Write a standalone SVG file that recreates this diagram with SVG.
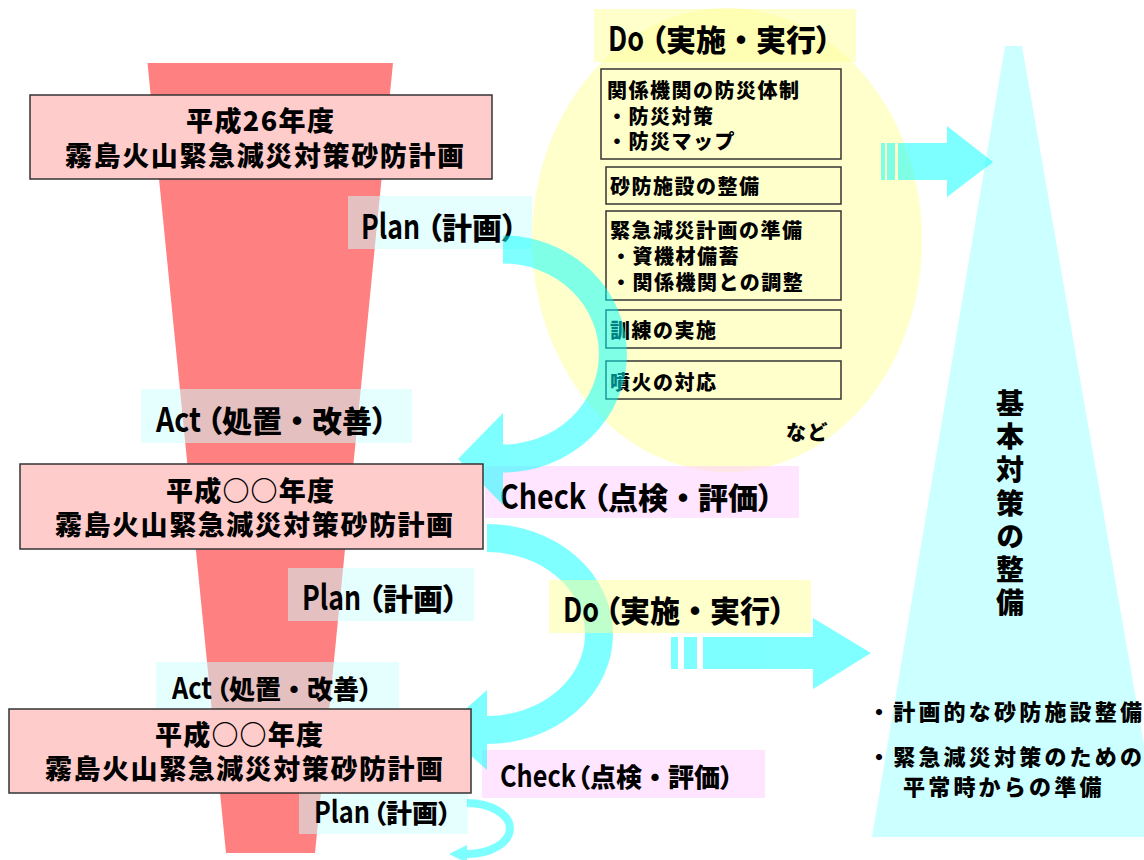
<svg xmlns="http://www.w3.org/2000/svg" width="1144" height="860" viewBox="0 0 1144 860">
<style>
.t{font-family:"Noto Sans CJK JP","Noto Sans",sans-serif;font-weight:900;fill:#000}
.title{font-size:27px}
.lbl{font-size:30px}
.lbl2{font-size:26px}
.lat{font-weight:700}
.lbl .lat{font-size:34px}
.lbl2 .lat{font-size:30px}
.p{font-feature-settings:"palt"}
.dt{font-size:20px;letter-spacing:1.5px}
.bl{font-size:22px;letter-spacing:3.2px}
.vt{font-size:28px;writing-mode:vertical-rl;letter-spacing:5.3px}
.tbox{fill:#ffcccc;stroke:#333;stroke-width:1.5}
.dbox{fill:#ffffcc;stroke:#333;stroke-width:1.5}
.bgc{fill:#ccffff;fill-opacity:.5}
.bgm{fill:#ffccff;fill-opacity:.5}
.bgy{fill:#ffff99;fill-opacity:.5}
.cy{fill:#00ffff}
.arc{fill:none;stroke:#00ffff}
</style>
<rect width="1144" height="860" fill="#fff"/>
<g id="funnel"><polygon points="147.5,63 393,63 315,853 226,853" fill="#ff8080"/></g>
<g id="do-area"><ellipse cx="727" cy="240" rx="195" ry="232" fill="#ffffcc"/></g>
<g id="basic-measures">
<polygon points="1005,46 1022,46 1160,837 872,837" fill="#ccffff"/>
<text class="t vt" x="1010" y="389">基本対策の整備</text>
<text class="t bl" x="868" y="720">・計画的な砂防施設整備</text>
<text class="t bl" x="868" y="765">・緊急減災対策のための</text>
<text class="t bl" x="903" y="795">平常時からの準備</text>
</g>
<g id="do-items">
<g id="item-a"><rect class="dbox" x="601" y="69" width="240" height="90"/>
<text class="t dt" x="607" y="97.5">関係機関の防災体制</text>
<text class="t dt" x="607" y="123.5">・防災対策</text>
<text class="t dt" x="607" y="148.5">・防災マップ</text></g>
<g id="item-b"><rect class="dbox" x="606" y="167" width="235" height="37"/>
<text class="t dt" x="610" y="193.5">砂防施設の整備</text></g>
<g id="item-c"><rect class="dbox" x="606" y="211" width="235" height="89"/>
<text class="t dt" x="610" y="237.5">緊急減災計画の準備</text>
<text class="t dt" x="611" y="263.5">・資機材備蓄</text>
<text class="t dt" x="611" y="289.5">・関係機関との調整</text></g>
<g id="item-d"><rect class="dbox" x="606" y="310" width="235" height="38"/>
<text class="t dt" x="610" y="337.5">訓練の実施</text></g>
<g id="item-e"><rect class="dbox" x="606" y="361" width="235" height="38"/>
<text class="t dt" x="610" y="389.5">噴火の対応</text></g>
<text class="t dt" x="786" y="440">など</text>
</g>
<g id="connectors">
<g opacity="0.5">
<rect class="cy" x="881" y="143" width="4" height="37"/>
<rect class="cy" x="887" y="143" width="8" height="37"/>
<polygon class="cy" points="898,143 947,143 947,126 993,162 947,197 947,180 898,180"/>
</g>
<g opacity="0.5">
<rect class="cy" x="671" y="637" width="7" height="32"/>
<rect class="cy" x="684" y="637" width="13" height="32"/>
<polygon class="cy" points="703,637 813,637 813,618 871,653 813,689 813,669 703,669"/>
</g>
</g>
<g id="labels">
<g id="plan1"><rect class="bgc" x="348" y="196" width="184" height="53"/>
<text class="t lbl" y="239"><tspan class="lat" x="361" textLength="59" lengthAdjust="spacingAndGlyphs">Plan</tspan><tspan class="p" x="427">（</tspan>計画<tspan class="p">）</tspan></text></g>
<g id="act1"><rect class="bgc" x="141" y="389" width="271" height="54"/>
<text class="t lbl" y="432"><tspan class="lat" x="156" textLength="45" lengthAdjust="spacingAndGlyphs">Act</tspan><tspan class="p" x="207">（</tspan>処置・改善<tspan class="p">）</tspan></text></g>
<g id="check1"><rect class="bgm" x="485" y="466" width="314" height="52"/>
<text class="t lbl" y="509"><tspan class="lat" x="500" textLength="86" lengthAdjust="spacingAndGlyphs">Check</tspan><tspan class="p" x="593">（</tspan>点検・評価<tspan class="p">）</tspan></text></g>
<g id="plan2"><rect class="bgc" x="288" y="568" width="186" height="53"/>
<text class="t lbl" y="610"><tspan class="lat" x="302" textLength="59" lengthAdjust="spacingAndGlyphs">Plan</tspan><tspan class="p" x="368">（</tspan>計画<tspan class="p">）</tspan></text></g>
<g id="do1"><rect class="bgy" x="594" y="9" width="262" height="53"/>
<text class="t lbl" y="51"><tspan class="lat" x="608" textLength="36" lengthAdjust="spacingAndGlyphs">Do</tspan><tspan class="p" x="651">（</tspan>実施・実行<tspan class="p">）</tspan></text></g>
<g id="act2"><rect class="bgc" x="156" y="662" width="243" height="50"/>
<text class="t lbl2" y="699"><tspan class="lat" x="172" textLength="40" lengthAdjust="spacingAndGlyphs">Act</tspan><tspan class="p" x="216">（</tspan>処置・改善<tspan class="p">）</tspan></text></g>
<g id="check2"><rect class="bgm" x="482" y="750" width="283" height="48"/>
<text class="t lbl2" y="787"><tspan class="lat" x="500" textLength="76" lengthAdjust="spacingAndGlyphs">Check</tspan><tspan class="p" x="577">（</tspan>点検・評価<tspan class="p">）</tspan></text></g>
<g id="plan3"><rect class="bgc" x="299" y="790" width="169" height="44"/>
<text class="t lbl2" y="823"><tspan class="lat" x="314" textLength="56" lengthAdjust="spacingAndGlyphs">Plan</tspan><tspan class="p" x="373">（</tspan>計画<tspan class="p">）</tspan></text></g>
</g>
<g id="cycle-arrows">
<g opacity="0.5">
<path class="arc" stroke-width="28" d="M503 249.5 A110 104.5 0 0 1 503 458.5"/>
<polygon class="cy" points="503,413 458,459 503,505"/>
</g>
<g opacity="0.5">
<path class="arc" stroke-width="28" d="M487 538 A112 96 0 0 1 487 730"/>
<polygon class="cy" points="487,690 442,730 487,770"/>
</g>
<g opacity="0.5">
<path class="arc" stroke-width="8" d="M467 803 A43 25.5 0 0 1 467 854"/>
<polygon class="cy" points="467,845 449,854 467,863"/>
</g>
</g>
<g id="do2"><rect class="bgy" x="549" y="580" width="262" height="53"/>
<text class="t lbl" y="622"><tspan class="lat" x="563" textLength="36" lengthAdjust="spacingAndGlyphs">Do</tspan><tspan class="p" x="605">（</tspan>実施・実行<tspan class="p">）</tspan></text></g>
<g id="plan-h26"><rect class="tbox" x="30" y="95" width="462" height="84"/>
<text class="t title" x="186" y="131" textLength="148">平成26年度</text>
<text class="t title" x="65" y="166" textLength="399">霧島火山緊急減災対策砂防計画</text></g>
<g id="plan-next"><rect class="tbox" x="20" y="464" width="463" height="85"/>
<text class="t title" x="166" y="501" textLength="168">平成○○年度</text>
<text class="t title" x="55" y="535" textLength="398">霧島火山緊急減災対策砂防計画</text></g>
<g id="plan-after"><rect class="tbox" x="9" y="709" width="462" height="84"/>
<text class="t title" x="155" y="745" textLength="168">平成○○年度</text>
<text class="t title" x="45" y="779" textLength="398">霧島火山緊急減災対策砂防計画</text></g>
</svg>
